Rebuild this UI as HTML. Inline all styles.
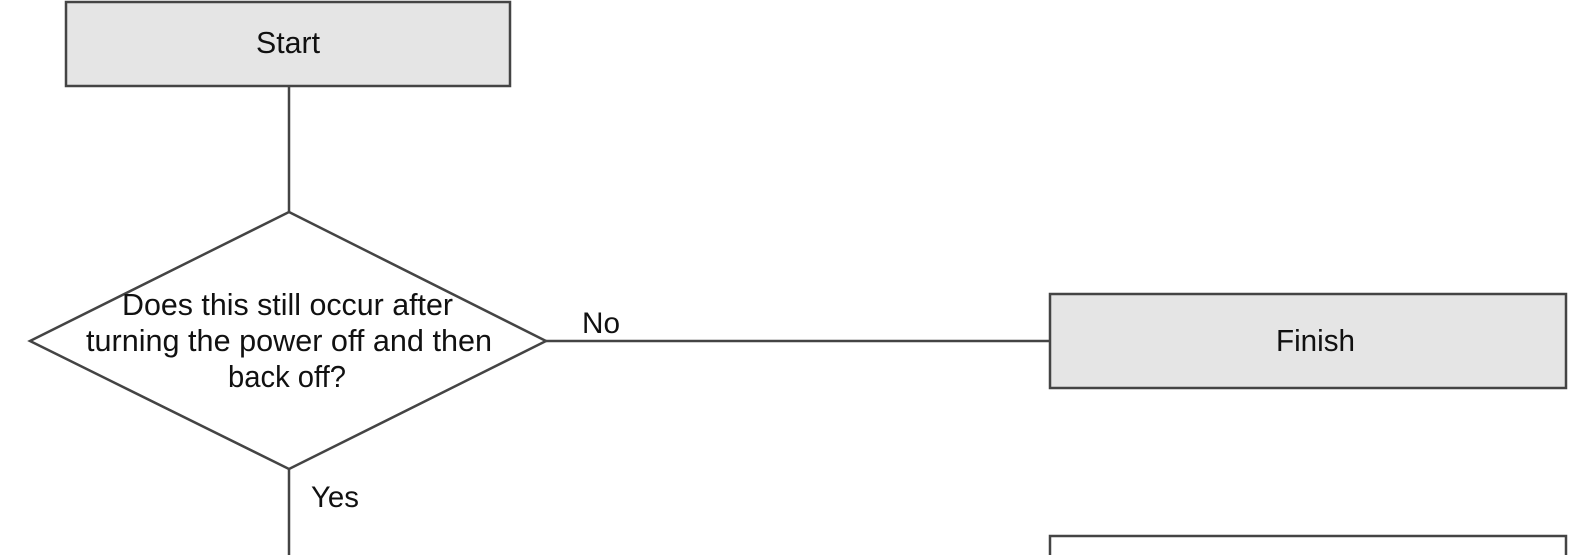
<!DOCTYPE html>
<html><head><style>html,body{margin:0;padding:0;background:#fff;}svg{display:block}</style></head>
<body>
<svg width="1578" height="555" viewBox="0 0 1578 555" xmlns="http://www.w3.org/2000/svg" font-family="Liberation Sans, Arial, sans-serif" fill="#111">
<rect x="66" y="2" width="444" height="84" fill="#e5e5e5" stroke="#444" stroke-width="2.5"/>
<text x="256" y="53" font-size="31" textLength="64" lengthAdjust="spacingAndGlyphs" fill="#111">Start</text>
<line x1="289" y1="86" x2="289" y2="212" stroke="#444" stroke-width="2.5"/>
<polygon points="289,212 546,341 289,469 30,341" fill="#fff" stroke="#444" stroke-width="2.5"/>
<text x="122" y="315" font-size="31" textLength="331" lengthAdjust="spacingAndGlyphs">Does this still occur after</text>
<text x="86" y="351" font-size="31" textLength="406" lengthAdjust="spacingAndGlyphs">turning the power off and then</text>
<text x="228" y="387" font-size="31" textLength="118" lengthAdjust="spacingAndGlyphs">back off?</text>
<line x1="546" y1="341" x2="1050" y2="341" stroke="#444" stroke-width="2.5"/>
<text x="582" y="333" font-size="30" textLength="38" lengthAdjust="spacingAndGlyphs">No</text>
<line x1="289" y1="469" x2="289" y2="555" stroke="#444" stroke-width="2.5"/>
<text x="311" y="507" font-size="30" textLength="48" lengthAdjust="spacingAndGlyphs">Yes</text>
<rect x="1050" y="294" width="516" height="94" fill="#e5e5e5" stroke="#444" stroke-width="2.5"/>
<text x="1276" y="351" font-size="31" textLength="79" lengthAdjust="spacingAndGlyphs">Finish</text>
<rect x="1050" y="536" width="516" height="40" fill="#fff" stroke="#444" stroke-width="2.5"/>
</svg>
</body></html>
